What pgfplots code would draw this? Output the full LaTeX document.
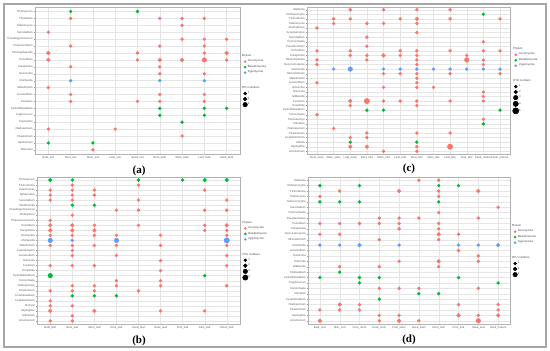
\documentclass[border=0pt]{standalone}
\usepackage{fontspec}
\setmainfont{Liberation Sans}
\newfontfamily\serifF{Liberation Serif}
\usepackage{pgfplots}
\pgfplotsset{compat=1.18}
\definecolor{cA}{HTML}{F8766D}
\definecolor{cB}{HTML}{00BA38}
\definecolor{cZ}{HTML}{619CFF}
\pgfplotsset{
  panel/.style={
    scale only axis,
    y dir=reverse,
    grid=major,
    major grid style={black!10, line width=0.35pt},
    axis line style={black!30, line width=0.4pt},
    tick style={black!40, line width=0.3pt},
    major tick length=1.2pt,
    tick align=outside,
    xtick pos=bottom, ytick pos=left,
    tick label style={font=\fontsize{2.8}{3}\selectfont, text=black!65},
    yticklabel style={inner sep=0.8pt},
    xticklabel style={inner sep=0.8pt},
    legend cell align=left,
    legend image code/.code={\draw[mark repeat=2,mark phase=2,##1] plot coordinates {(0pt,0pt)(2.5pt,0pt)(5pt,0pt)};},
    legend style={at={(1.012,0.5)}, anchor=west, draw=none, fill=none,
      font=\fontsize{2.8}{3}\selectfont, inner sep=0pt, row sep=1.2pt,
      nodes={inner sep=0.4pt, text=black!75}},
  },
  s1/.style={mark size=1.5pt}, s2/.style={mark size=1.9pt}, s3/.style={mark size=2.3pt},
  s4/.style={mark size=2.7pt}, s5/.style={mark size=3.1pt},
}
% #1 colour, #2 size style, #3 coordinates
\newcommand{\otudots}[3]{\addplot[only marks, mark=*, color=#1, #2, forget plot] coordinates {#3};}
\newcommand{\phylumlegend}{%
  \addlegendimage{empty legend}\addlegendentry{\hspace*{-6pt}Phylum}
  \addlegendimage{only marks, mark=*, cA, mark size=1.1pt}\addlegendentry{Ascomycota}
  \addlegendimage{only marks, mark=*, cB, mark size=1.1pt}\addlegendentry{Basidiomycota}
  \addlegendimage{only marks, mark=*, cZ, mark size=1.1pt}\addlegendentry{Zygomycota}
  \addlegendimage{empty legend}\addlegendentry{\hspace*{-6pt}\rule{0pt}{12pt}OTU numbers}
}
\newcommand{\sizeentry}[2]{\addlegendimage{only marks, mark=*, black, #2}\addlegendentry{#1}}
\begin{document}
\begin{tikzpicture}
\useasboundingbox (0,0) rectangle (550pt,351pt);
\draw[black!35, line width=1.2pt] (4pt,4pt) rectangle (546pt,347pt);

% ---------------- (a)
\begin{axis}[panel, at={(35pt,344pt)}, anchor=north west, width=205pt, height=147pt,
  xmin=-0.6, xmax=8.6, ymin=-0.65, ymax=20.6,
  xtick={0,...,8}, ytick={0,...,20},
  xticklabels={Bulb\_soil, Root\_soil, Stem\_soil, Leaf\_soil, Seed\_soil, Root\_bulk, Stem\_bulk, Leaf\_bulk, Seed\_bulk},
  yticklabels={Trichosporon, Thelebolus, Talaromyces, Sarocladium, Pseudogymnoascus, Purpureocillium, Plectosphaerella, Penicillium, Paraphoma, Neonectria, Mortierella, Metarhizium, Lecanicillium, Fusarium, Cystofilobasidium, Cryptococcus, Coprinellus, Cladosporium, Chaetomium, Apiotrichum, Alternaria}]
\otudots{cA}{s1}{(1,1)(5,1)(6,1)(7,1)(6,2)(0,3)(6,4)(7,4)(8,4)(1,5)(5,5)(7,5)(4,6)(7,6)(4,7)(8,7)(1,8)(5,8)(5,9)(7,9)(0,11)(1,12)(5,12)(7,12)(1,13)(4,13)(5,13)(7,13)(0,17)(3,17)(6,18)(2,20)}
\otudots{cA}{s2}{(0,6)(8,6)(0,7)(5,7)(6,7)}
\otudots{cA}{s3}{(7,7)}
\otudots{cB}{s1}{(1,0)(4,0)(5,14)(7,14)(8,14)(5,15)(7,15)(6,16)(0,19)(2,19)}
\otudots{cZ}{s1}{(1,10)(5,10)(7,10)}
\phylumlegend
\sizeentry{1}{s1}\sizeentry{2}{s2}\sizeentry{3}{s3}
\end{axis}

% ---------------- (c)
\begin{axis}[panel, at={(307pt,344pt)}, anchor=north west, width=203pt, height=147pt,
  xmin=-0.6, xmax=11.6, ymin=-0.6, ymax=31.6,
  xtick={0,...,11}, ytick={0,...,31},
  xticklabels={Root\_early, Stem\_early, Leaf\_early, Root\_mid, Stem\_mid, Leaf\_mid, Root\_late, Stem\_late, Leaf\_late, Fruit\_late, Seed\_mature, Husk\_mature},
  yticklabels={Wallemia, Vishniacozyma, Trichoderma, Talaromyces, Stachybotrys, Scopulariopsis, Sarocladium, Pyrenochaeta, Pseudeurotium, Penicillium, Paraphoma, Neosetophoma, Neocosmospora, Mortierella, Microdochium, Metarhizium, Lecanicillium, Ilyonectria, Humicola, Gibberella, Fusarium, Exophiala, Cystofilobasidium, Coniochaeta, Clonostachys, Clitopilus, Cladosporium, Chaetomium, Cephalotrichum, Athelia, Aspergillus, Acremonium}]
\otudots{cA}{s1}{(2,0)(4,0)(6,0)(8,0)(1,2)(2,2)(5,2)(8,2)(11,2)(1,3)(3,3)(4,3)(6,3)(0,4)(6,5)(3,6)(10,7)(3,8)(0,9)(2,9)(5,9)(6,9)(8,9)(10,9)(11,9)(2,10)(3,10)(5,10)(6,10)(9,10)(0,11)(3,11)(6,11)(10,11)(0,12)(6,12)(10,12)(4,14)(5,14)(6,14)(8,14)(11,14)(6,15)(0,16)(6,16)(4,17)(6,17)(7,17)(10,18)(10,19)(4,20)(5,20)(6,20)(8,20)(10,20)(2,21)(6,21)(0,23)(10,24)(1,26)(3,27)(6,27)(8,27)(2,28)(3,28)(6,30)(4,31)(6,31)}
\otudots{cA}{s2}{(6,2)(4,10)(2,20)(2,30)(3,30)}
\otudots{cA}{s3}{(9,11)}
\otudots{cA}{s4}{(3,20)(8,30)}
\otudots{cB}{s1}{(10,1)(3,22)(4,22)(11,22)(10,25)(2,29)(6,29)}
\otudots{cZ}{s1}{(1,13)(4,13)(5,13)(6,13)(7,13)(8,13)(9,13)(10,13)(11,13)}
\otudots{cZ}{s3}{(2,13)}
\phylumlegend
\sizeentry{1}{s1}\sizeentry{2}{s2}\sizeentry{3}{s3}\sizeentry{4}{s4}\sizeentry{5}{s5}
\end{axis}

% ---------------- (b)
\begin{axis}[panel, at={(37pt,174pt)}, anchor=north west, width=203pt, height=147pt,
  xmin=-0.6, xmax=8.6, ymin=-0.6, ymax=28.6,
  xtick={0,...,8}, ytick={0,...,28},
  xticklabels={Bulb\_leaf, Root\_leaf, Stem\_leaf, Core\_leaf, Seed\_leaf, Husk\_leaf, Fruit\_leaf, Skin\_leaf, Shoot\_leaf},
  yticklabels={Trichosporon, Trichoderma, Talaromyces, Sphaerulina, Sarocladium, Rhodotorula, Pseudogymnoascus, Phialophora, Phaeoacremonium, Penicillium, Paraphoma, Neonectria, Mortierella, Metarhizium, Leptosphaeria, Lecanicillium, Humicola, Fusarium, Exophiala, Cystofilobasidium, Coniochaeta, Cladosporium, Chaetomium, Ceratobasidium, Cephalotrichum, Botrytis, Aspergillus, Arthrinium, Acremonium}]
\otudots{cA}{s1}{(1,1)(4,1)(0,2)(1,2)(2,2)(7,2)(0,3)(1,3)(2,3)(0,4)(1,4)(4,4)(8,4)(3,6)(4,6)(7,6)(8,6)(1,7)(0,8)(2,9)(4,9)(7,9)(7,10)(8,10)(0,11)(1,11)(2,11)(3,11)(5,11)(8,11)(0,13)(1,13)(2,13)(3,13)(5,13)(8,13)(1,14)(1,15)(3,15)(8,15)(5,16)(0,17)(1,17)(2,17)(8,17)(5,18)(3,20)(5,20)(1,21)(2,21)(3,21)(5,21)(8,21)(0,22)(1,22)(2,22)(4,22)(0,24)(0,25)(1,25)(5,26)(7,26)(1,27)(0,28)(1,28)}
\otudots{cA}{s2}{(0,9)(1,9)(8,9)(0,10)(1,10)(2,10)(0,26)(2,26)}
\otudots{cB}{s1}{(1,0)(4,0)(6,0)(1,5)(2,5)(7,19)(1,23)(2,23)(3,23)}
\otudots{cB}{s2}{(0,0)(7,0)(8,0)}
\otudots{cB}{s3}{(0,19)}
\otudots{cZ}{s1}{(1,12)}
\otudots{cZ}{s3}{(0,12)(3,12)}
\otudots{cZ}{s4}{(8,12)}
\phylumlegend
\sizeentry{1}{s1}\sizeentry{2}{s2}\sizeentry{3}{s3}\sizeentry{4}{s4}
\end{axis}

% ---------------- (d)
\begin{axis}[panel, at={(308pt,174pt)}, anchor=north west, width=202pt, height=147pt,
  xmin=-0.6, xmax=9.6, ymin=-0.6, ymax=26.6,
  xtick={0,...,9}, ytick={0,...,26},
  xticklabels={Bulb\_root, Skin\_root, Core\_stem, Husk\_stem, Fruit\_stem, Seed\_stem, Root\_leaf, Fruit\_leaf, Seed\_leaf, Husk\_mature},
  yticklabels={Wallemia, Vishniacozyma, Trichoderma, Talaromyces, Solicoccozyma, Sarocladium, Pyrenochaeta, Pseudeurotium, Penicillium, Paraphoma, Neocosmospora, Microdochium, Mortierella, Lecanicillium, Ilyonectria, Humicola, Gibberella, Filobasidium, Cystofilobasidium, Cryptococcus, Coniochaeta, Clitopilus, Ceratobasidium, Cladosporium, Chaetomium, Aspergillus, Acremonium}]
\otudots{cA}{s1}{(5,0)(6,0)(1,2)(6,2)(0,3)(6,3)(9,5)(6,6)(3,7)(4,7)(5,7)(8,7)(0,8)(1,8)(2,8)(3,8)(4,8)(6,8)(4,9)(6,9)(0,10)(1,10)(7,10)(3,11)(6,11)(7,13)(8,14)(4,15)(8,15)(1,16)(3,16)(6,16)(3,20)(4,20)(5,20)(8,20)(2,23)(7,23)(9,23)(0,24)(1,24)(2,24)(9,24)(3,25)(4,25)(8,25)(3,26)(5,26)}
\otudots{cA}{s2}{(4,2)(8,2)(6,10)(6,15)(1,23)(7,25)(9,25)(0,26)(4,26)}
\otudots{cA}{s3}{(8,26)}
\otudots{cB}{s1}{(0,1)(2,1)(6,1)(7,1)(0,4)(1,4)(2,4)(6,4)(1,17)(0,18)(2,18)(3,18)(7,18)(2,19)(9,19)(5,21)(6,21)(3,22)}
\otudots{cZ}{s1}{(0,12)(1,12)(4,12)(7,12)(8,12)}
\otudots{cZ}{s2}{(2,12)(9,12)}
\phylumlegend
\sizeentry{1}{s1}\sizeentry{2}{s2}\sizeentry{3}{s3}
\end{axis}

\node[font=\serifF\fontsize{11}{11}\selectfont\bfseries] at (139pt,180pt) {(a)};
\node[font=\serifF\fontsize{11}{11}\selectfont\bfseries] at (409pt,182pt) {(c)};
\node[font=\serifF\fontsize{11}{11}\selectfont\bfseries] at (139pt,10pt) {(b)};
\node[font=\serifF\fontsize{11}{11}\selectfont\bfseries] at (409pt,11pt) {(d)};
\end{tikzpicture}
\end{document}
